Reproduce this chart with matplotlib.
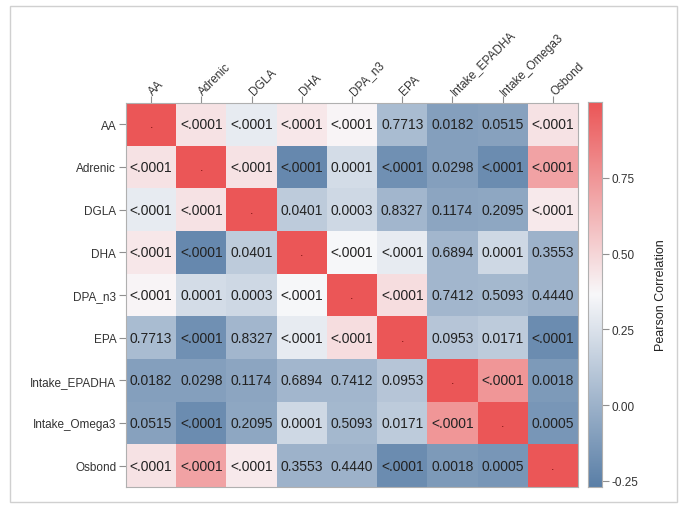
import numpy as np
import matplotlib.pyplot as plt
from matplotlib.colors import LinearSegmentedColormap
from matplotlib.patches import Rectangle

plt.rcParams['font.family'] = ['Liberation Sans', 'DejaVu Sans']

# variables
names = ['AA', 'Adrenic', 'DGLA', 'DHA', 'DPA_n3', 'EPA',
         'Intake_EPADHA', 'Intake_Omega3', 'Osbond']

# Pearson correlations
corr = [
    [1.00, 0.45, 0.30, 0.43, 0.38, 0.05, -0.10, -0.09, 0.45],
    [0.45, 1.00, 0.45, -0.22, 0.22, -0.18, -0.10, -0.20, 0.70],
    [0.30, 0.45, 1.00, 0.13, 0.20, 0.02, -0.07, -0.06, 0.42],
    [0.43, -0.22, 0.13, 1.00, 0.36, 0.30, 0.02, 0.20, 0.00],
    [0.38, 0.22, 0.20, 0.36, 1.00, 0.47, 0.02, 0.03, 0.00],
    [0.05, -0.18, 0.02, 0.30, 0.47, 1.00, 0.10, 0.13, -0.20],
    [-0.10, -0.10, -0.07, 0.02, 0.02, 0.10, 1.00, 0.75, -0.13],
    [-0.09, -0.20, -0.06, 0.20, 0.03, 0.13, 0.75, 1.00, -0.15],
    [0.45, 0.70, 0.42, 0.00, 0.00, -0.20, -0.13, -0.15, 1.00],
]

# p-values shown in the cells
pvals = [
    ['.', '<.0001', '<.0001', '<.0001', '<.0001', '0.7713', '0.0182', '0.0515', '<.0001'],
    ['<.0001', '.', '<.0001', '<.0001', '0.0001', '<.0001', '0.0298', '<.0001', '<.0001'],
    ['<.0001', '<.0001', '.', '0.0401', '0.0003', '0.8327', '0.1174', '0.2095', '<.0001'],
    ['<.0001', '<.0001', '0.0401', '.', '<.0001', '<.0001', '0.6894', '0.0001', '0.3553'],
    ['<.0001', '0.0001', '0.0003', '<.0001', '.', '<.0001', '0.7412', '0.5093', '0.4440'],
    ['0.7713', '<.0001', '0.8327', '<.0001', '<.0001', '.', '0.0953', '0.0171', '<.0001'],
    ['0.0182', '0.0298', '0.1174', '0.6894', '0.7412', '0.0953', '.', '<.0001', '0.0018'],
    ['0.0515', '<.0001', '0.2095', '0.0001', '0.5093', '0.0171', '<.0001', '.', '0.0005'],
    ['<.0001', '<.0001', '<.0001', '0.3553', '0.4440', '<.0001', '0.0018', '0.0005', '.'],
]

cbar_ticks = [-0.25, 0.00, 0.25, 0.50, 0.75]
vmin, vmax = -0.27, 1.0

cmap = LinearSegmentedColormap.from_list('sas3', ['#5A7FA7', '#F8F8FA', '#EB5657'])

W, H = 689, 510
fig = plt.figure(figsize=(W / 100, H / 100), dpi=100)

# outer frame
fig.patches.append(Rectangle((10 / W, 7 / H), 667 / W, 496 / H, transform=fig.transFigure,
                             fill=False, edgecolor='#D0D0D0', linewidth=1))

ax = fig.add_axes([126 / W, (H - 488) / H, 452 / W, 384 / H])
data = np.array(corr)
n = len(names)
ax.pcolormesh(np.arange(n + 1), np.arange(n + 1), data, cmap=cmap, vmin=vmin, vmax=vmax)
ax.set_xlim(0, n)
ax.set_ylim(n, 0)

for i in range(n):
    for j in range(n):
        txt = pvals[i][j]
        if txt == '.':
            ax.text(j + 0.5, i + 0.5, txt, ha='center', va='center', fontsize=9, color='#7A1010')
        else:
            ax.text(j + 0.5, i + 0.5, txt, ha='center', va='center', fontsize=10, color='#222222')

ax.xaxis.tick_top()
ax.set_xticks(np.arange(n) + 0.5)
ax.set_yticks(np.arange(n) + 0.5)
ax.set_xticklabels(names, rotation=45, ha='left', va='center', rotation_mode='anchor')
ax.set_yticklabels(names)
ax.tick_params(axis='both', length=5, color='#909090', labelsize=8.5, labelcolor='#333333', pad=2)
for s in ax.spines.values():
    s.set_color('#B0B0B0')
    s.set_linewidth(0.8)

# colour bar
cax = fig.add_axes([588 / W, (H - 488) / H, 14 / W, 385 / H])
grad = np.linspace(vmin, vmax, 256).reshape(-1, 1)
cax.imshow(grad, aspect='auto', origin='lower', cmap=cmap, vmin=vmin, vmax=vmax,
           extent=[0, 1, vmin, vmax])
cax.set_xticks([])
cax.yaxis.tick_right()
cax.set_yticks(cbar_ticks)
cax.set_yticklabels([f'{t:.2f}' for t in cbar_ticks])
cax.tick_params(axis='y', length=5, color='#909090', labelsize=8.5, labelcolor='#333333', pad=2)
for s in cax.spines.values():
    s.set_color('#B0B0B0')
    s.set_linewidth(0.8)
cax.set_ylabel('Pearson Correlation', fontsize=9, color='#222222', labelpad=12)
cax.yaxis.set_label_position('right')

plt.savefig('out.png', dpi=100)
